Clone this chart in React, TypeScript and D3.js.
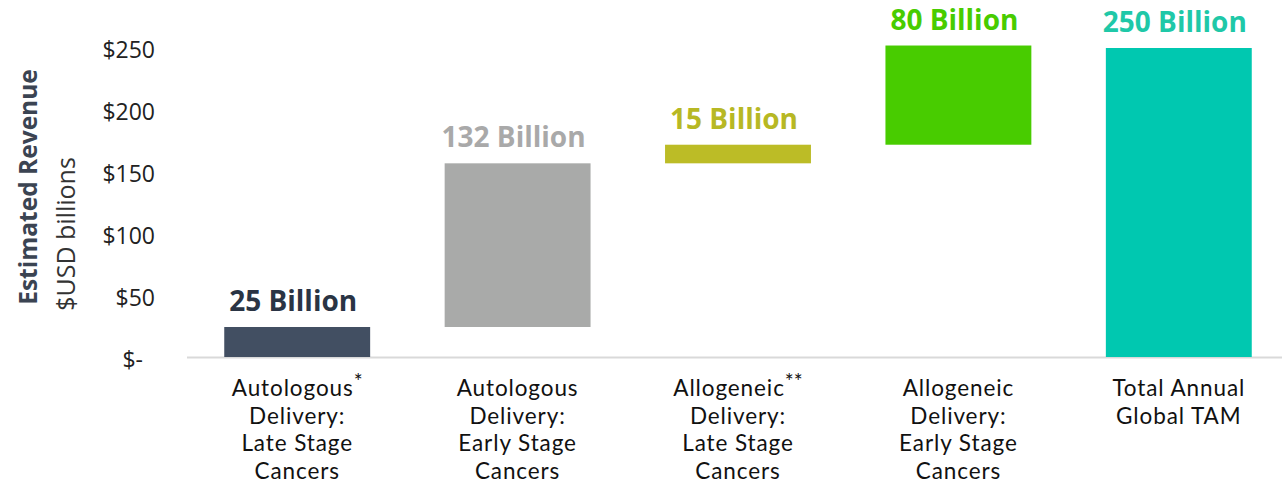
import React from "react";
import * as d3 from "d3";

const categories = [
  ["Autologous|*", "Delivery:", "Late Stage", "Cancers"],
  ["Autologous", "Delivery:", "Early Stage", "Cancers"],
  ["Allogeneic|**", "Delivery:", "Late Stage", "Cancers"],
  ["Allogeneic", "Delivery:", "Early Stage", "Cancers"],
  ["Total Annual", "Global TAM"],
];
const increments = [25, 132, 15, 80];
const totalValue = 250;
const valueLabels = ["25 Billion", "132 Billion", "15 Billion", "80 Billion", "250 Billion"];
const barColors = ["#424f62", "#a9aaa9", "#bcbc26", "#48cc00", "#00c8b0"];
const labelColors = ["#2a3444", "#a9a9a9", "#b7b824", "#48cc00", "#1fc8a8"];
const yTicks = [0, 50, 100, 150, 200, 250];
const yTickLabels = ["$-", "$50", "$100", "$150", "$200", "$250"];

const W = 1282;
const H = 483;
const FONT = "'Open Sans', Lato, sans-serif";
const CAT_FONT = "Lato, 'Open Sans', sans-serif";

export default function App() {
  const x = d3.scaleBand<number>().domain(d3.range(5)).range([187, 1289]).paddingInner(0.338).paddingOuter(0.169);
  const y = d3.scaleLinear().domain([0, 250]).range([358, 48]);

  const cum = d3.cumsum(increments);
  const bars = increments.map((v, i) => ({ y0: cum[i] - v, y1: cum[i] }));
  bars.push({ y0: 0, y1: totalValue });

  return (
    <svg width={W} height={H} style={{ position: "absolute", left: 0, top: 0, display: "block", background: "#fff" }}>
      {/* axis titles */}
      <text transform="translate(37,187) rotate(-90)" textAnchor="middle" fontFamily={FONT} fontWeight={700} fontSize={24.5} fill="#3b4452">
        Estimated Revenue
      </text>
      <text transform="translate(75,234) rotate(-90)" textAnchor="middle" fontFamily={FONT} fontSize={25} fill="#333">
        $USD billions
      </text>
      {/* y tick labels */}
      {yTicks.map((t, i) => (
        <text key={t} x={t === 0 ? 143 : 155} y={y(t) + 9.5} textAnchor="end" fontFamily={FONT} fontSize={23} fill="#222">
          {yTickLabels[i]}
        </text>
      ))}
      {/* baseline */}
      <line x1={187} x2={W} y1={y(0) - 0.5} y2={y(0) - 0.5} stroke="#d9d9d9" strokeWidth={2} />
      {/* bars */}
      {bars.map((b, i) => (
        <rect key={i} x={x(i)} width={x.bandwidth()} y={y(b.y1)} height={y(b.y0) - y(b.y1) - (b.y0 === 0 ? 1 : 0)} fill={barColors[i]} />
      ))}
      {/* value labels */}
      {bars.map((b, i) => (
        <text key={i} x={x(i)! + x.bandwidth() / 2 - 4} y={y(b.y1) - 16} textAnchor="middle" fontFamily={FONT} fontWeight={700} fontSize={28} fill={labelColors[i]}>
          {valueLabels[i]}
        </text>
      ))}
      {/* category labels */}
      {categories.map((lines, i) =>
        lines.map((ln, j) => {
          const [main, sup] = ln.split("|");
          return (
            <text key={`${i}-${j}`} x={x(i)! + x.bandwidth() / 2} y={396 + j * 27.5} textAnchor="middle" fontFamily={CAT_FONT} fontSize={22.5} letterSpacing={0.9} fill="#111">
              {main}
              {sup ? (
                <tspan fontSize={21} dy={-7} letterSpacing={0}>{sup}</tspan>
              ) : null}
            </text>
          );
        })
      )}
    </svg>
  );
}
